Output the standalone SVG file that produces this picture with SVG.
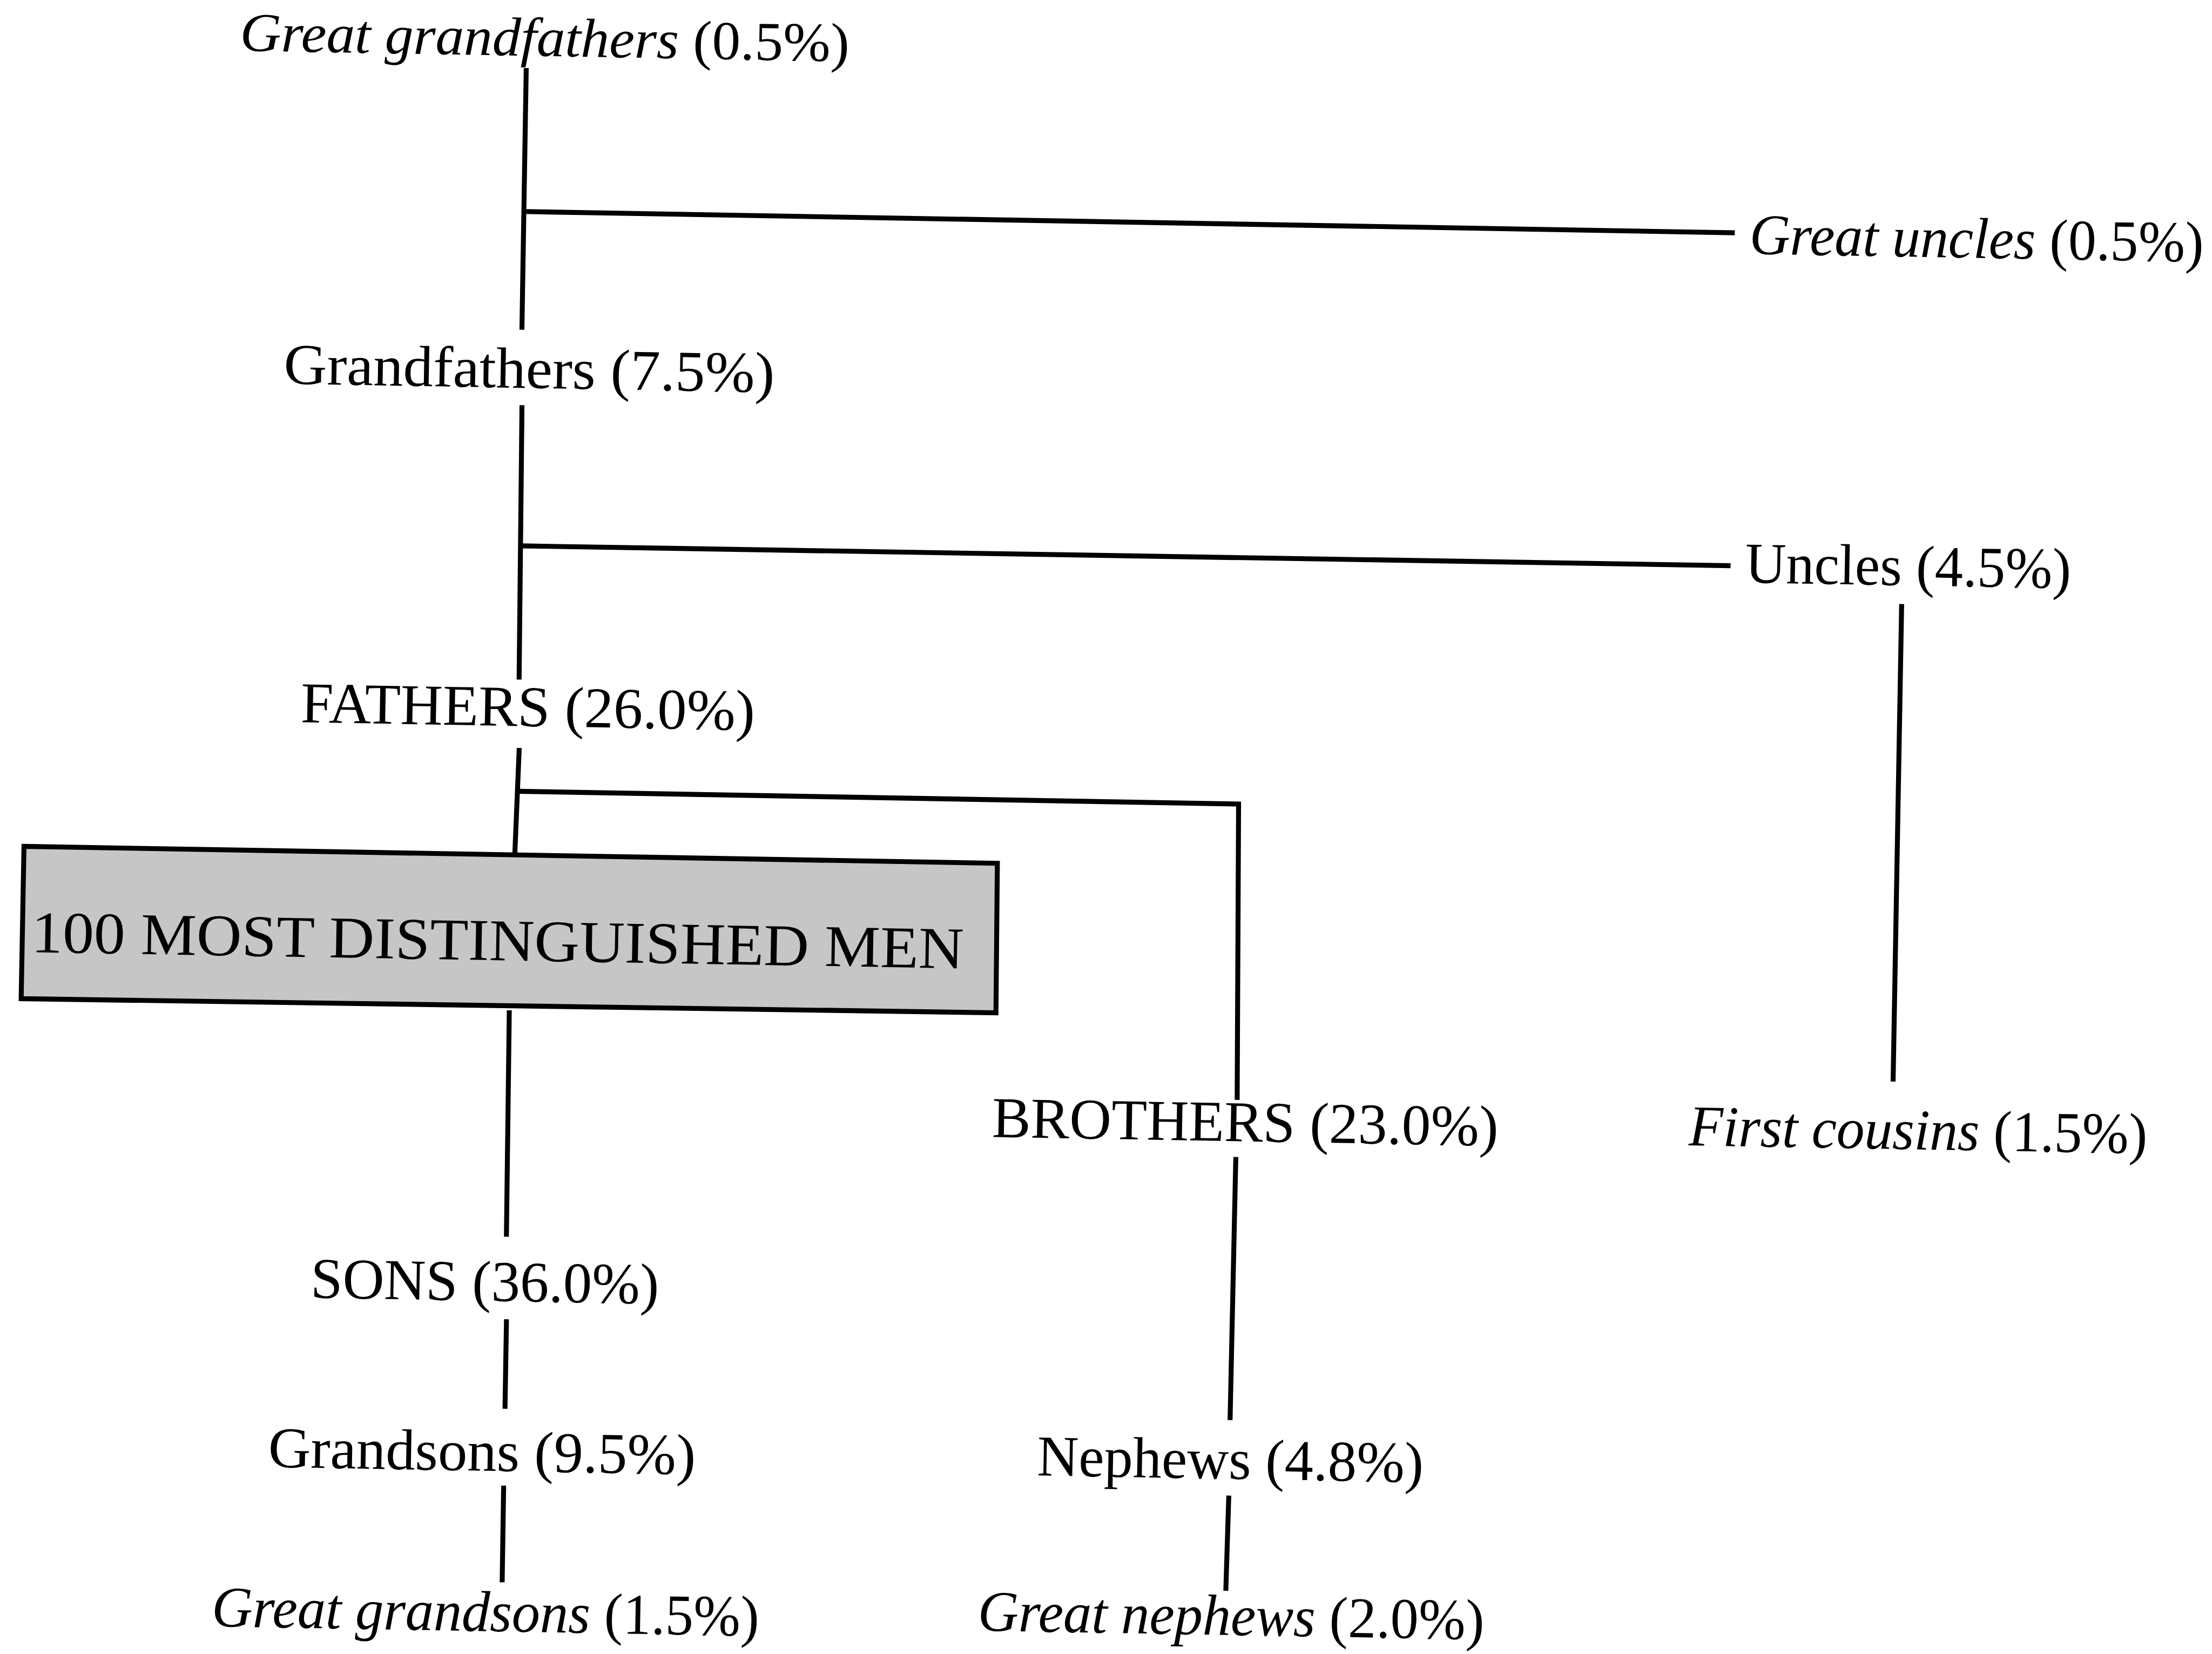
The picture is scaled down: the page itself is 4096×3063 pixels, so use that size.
<svg xmlns="http://www.w3.org/2000/svg" width="4096" height="3063" viewBox="0 0 4096 3063">
<style>
.t{font-family:"Liberation Serif","Times New Roman",serif;font-size:41px;fill:#000}
.i{font-style:italic}
.c{stroke:#000;stroke-width:3.5;fill:none;stroke-linecap:square}
.box{fill:#c6c6c6;stroke:#000;stroke-width:3.5}
</style>
<rect width="4096" height="3063" fill="#fff"/>
<g transform="scale(2.6122)">
<g id="connectors">
<path class="c" d="M373,50 L370,232"/>
<path class="c" d="M373,150 L1228,165"/>
<path class="c" d="M370,289 L368,480"/>
<path class="c" d="M370,387 L1225,401"/>
<path class="c" d="M1348,430 L1342,765"/>
<path class="c" d="M368,532 L365,604"/>
<path class="c" d="M368,561 L878,570 L877,778"/>
<path class="c" d="M361,718 L359,875"/>
<path class="c" d="M876,822 L872,1005"/>
<path class="c" d="M359,937 L358,997"/>
<path class="c" d="M357,1055 L356,1120"/>
<path class="c" d="M871,1062 L869,1126"/>
</g>
<g id="n-greatgrandfathers"><text class="t" x="170" y="36" style="font-size:39px" textLength="432" lengthAdjust="spacingAndGlyphs" transform="rotate(1 170 36)"><tspan class="i">Great grandfathers</tspan> (0.5%)</text></g>
<g id="n-greatuncles"><text class="t" x="1240" y="180" textLength="322" lengthAdjust="spacingAndGlyphs" transform="rotate(1 1240 180)"><tspan class="i">Great uncles</tspan> (0.5%)</text></g>
<g id="n-grandfathers"><text class="t" x="201" y="272" textLength="348" lengthAdjust="spacingAndGlyphs" transform="rotate(1 201 272)">Grandfathers (7.5%)</text></g>
<g id="n-uncles"><text class="t" x="1237" y="413" textLength="231" lengthAdjust="spacingAndGlyphs" transform="rotate(1 1237 413)">Uncles (4.5%)</text></g>
<g id="n-fathers"><text class="t" x="213" y="512" textLength="322" lengthAdjust="spacingAndGlyphs" transform="rotate(1 213 512)">FATHERS (26.0%)</text></g>
<g id="n-men">
<polygon class="box" points="17,600 707,612 706,718 15,708"/>
<text class="t" x="22" y="675" style="font-size:42px" textLength="661" lengthAdjust="spacingAndGlyphs" transform="rotate(1 22 675)">100 MOST DISTINGUISHED MEN</text>
</g>
<g id="n-brothers"><text class="t" x="703" y="806" textLength="359" lengthAdjust="spacingAndGlyphs" transform="rotate(1 703 806)">BROTHERS (23.0%)</text></g>
<g id="n-firstcousins"><text class="t" x="1197" y="812" textLength="325" lengthAdjust="spacingAndGlyphs" transform="rotate(1 1197 812)"><tspan class="i">First cousins</tspan> (1.5%)</text></g>
<g id="n-sons"><text class="t" x="220" y="920" textLength="247" lengthAdjust="spacingAndGlyphs" transform="rotate(1 220 920)">SONS (36.0%)</text></g>
<g id="n-grandsons"><text class="t" x="190" y="1040" textLength="303" lengthAdjust="spacingAndGlyphs" transform="rotate(1 190 1040)">Grandsons (9.5%)</text></g>
<g id="n-nephews"><text class="t" x="735" y="1046" textLength="274" lengthAdjust="spacingAndGlyphs" transform="rotate(1 735 1046)">Nephews (4.8%)</text></g>
<g id="n-greatgrandsons"><text class="t" x="150" y="1153" textLength="388" lengthAdjust="spacingAndGlyphs" transform="rotate(1 150 1153)"><tspan class="i">Great grandsons</tspan> (1.5%)</text></g>
<g id="n-greatnephews"><text class="t" x="693" y="1156" textLength="359" lengthAdjust="spacingAndGlyphs" transform="rotate(1 693 1156)"><tspan class="i">Great nephews</tspan> (2.0%)</text></g>
</g>
</svg>
